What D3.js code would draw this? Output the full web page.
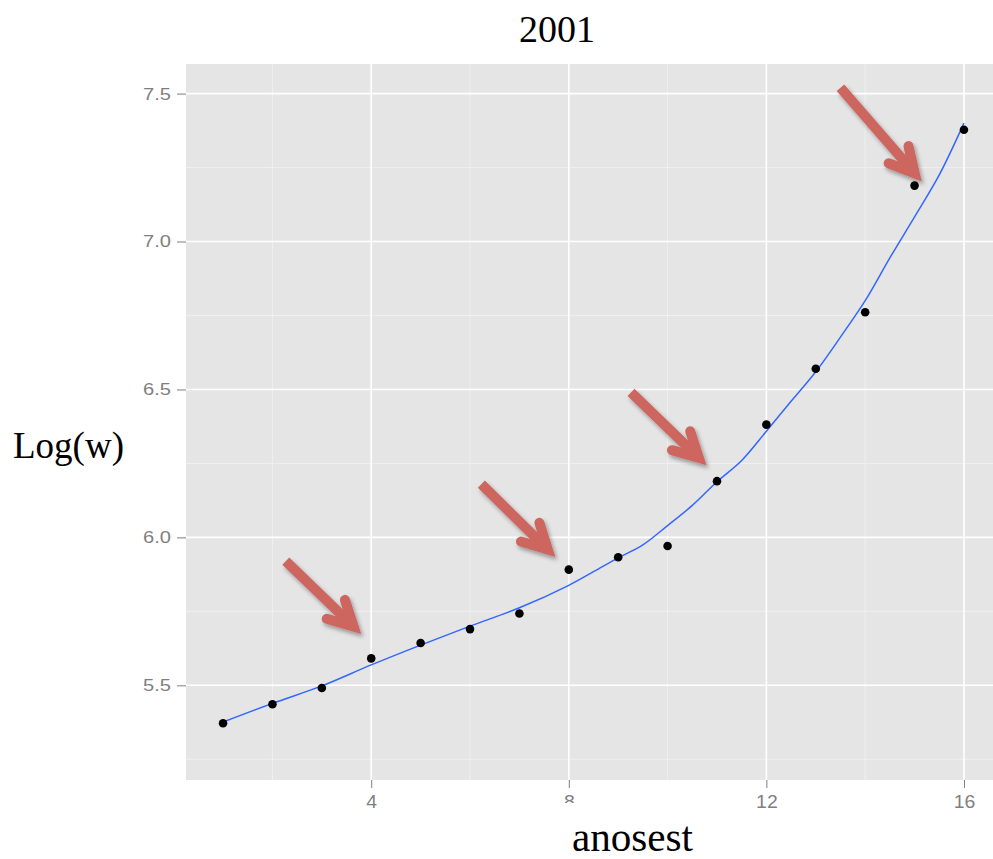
<!doctype html>
<html>
<head>
<script src="https://cdnjs.cloudflare.com/ajax/libs/d3/7.8.5/d3.min.js"></script>
<style>
  body { margin: 0; background: #fff; }
  svg { display: block; }
  .tick-label { font-family: "Liberation Sans", Arial, sans-serif; fill: #7f7f7f; }
  .big { font-family: "Liberation Serif", "DejaVu Serif", serif; fill: #000; }
</style>
</head>
<body>
<svg id="chart" width="993" height="859"></svg>
<script>
// data
const anosest = [1, 2, 3, 4, 5, 6, 7, 8, 9, 10, 11, 12, 13, 14, 15, 16];
const logw = [5.372, 5.436, 5.491, 5.591, 5.643, 5.690, 5.743, 5.891,
              5.933, 5.971, 6.190, 6.381, 6.570, 6.761, 7.189, 7.378];

// loess smooth
const smoothX = [1, 2, 3, 4, 5, 6, 7, 8, 8.5, 9, 9.5, 10, 10.5, 11, 11.5, 12, 12.5, 13, 13.5, 14, 14.5, 15, 15.5, 16];
const smoothY = [5.376, 5.439, 5.498, 5.569, 5.636, 5.700, 5.762, 5.838, 5.884, 5.931, 5.975, 6.040, 6.108, 6.188,
                 6.260, 6.359, 6.460, 6.560, 6.677, 6.800, 6.945, 7.083, 7.225, 7.400];

const xTicks = [4, 8, 12, 16];
const xMinor = [2, 6, 10, 14];
const yTicks = [5.5, 6.0, 6.5, 7.0, 7.5];
const yMinor = [5.25, 5.75, 6.25, 6.75, 7.25];

// annotation arrows (tail -> tip, in data units)
const arrowTails = [[2.27, 5.92], [6.23, 6.18], [9.26, 6.49], [13.50, 7.52]];
const arrowTips = [[3.76, 5.68], [7.69, 5.94], [10.75, 6.25], [15.11, 7.21]];

const svg = d3.select("#chart");
const panel = { left: 186, right: 1001, top: 64, bottom: 780 };

const x = d3.scaleLinear().domain([0.25, 16.75]).range([panel.left, panel.right]);
const y = d3.scaleLinear().domain([5.18, 7.6]).range([panel.bottom, panel.top]);

// panel
svg.append("rect")
  .attr("x", panel.left).attr("y", panel.top)
  .attr("width", panel.right - panel.left).attr("height", panel.bottom - panel.top)
  .attr("fill", "#e5e5e5");

const grid = svg.append("g");
grid.selectAll("line.ym").data(yMinor).enter().append("line")
  .attr("x1", panel.left).attr("x2", panel.right)
  .attr("y1", d => y(d)).attr("y2", d => y(d))
  .attr("stroke", "#f2f2f2").attr("stroke-width", 0.8);
grid.selectAll("line.xm").data(xMinor).enter().append("line")
  .attr("y1", panel.top).attr("y2", panel.bottom)
  .attr("x1", d => x(d)).attr("x2", d => x(d))
  .attr("stroke", "#f2f2f2").attr("stroke-width", 0.8);
grid.selectAll("line.yM").data(yTicks).enter().append("line")
  .attr("x1", panel.left).attr("x2", panel.right)
  .attr("y1", d => y(d)).attr("y2", d => y(d))
  .attr("stroke", "#fff").attr("stroke-width", 1.6);
grid.selectAll("line.xM").data(xTicks).enter().append("line")
  .attr("y1", panel.top).attr("y2", panel.bottom)
  .attr("x1", d => x(d)).attr("x2", d => x(d))
  .attr("stroke", "#fff").attr("stroke-width", 1.6);

// axes
const xAxis = d3.axisBottom(x).tickValues(xTicks).tickSize(8).tickPadding(7).tickFormat(d3.format("d"));
const gx = svg.append("g").attr("transform", `translate(0,${panel.bottom})`).call(xAxis);
gx.select(".domain").remove();
gx.selectAll(".tick line").attr("stroke", "#7f7f7f");
gx.selectAll(".tick text").attr("class", "tick-label").attr("font-size", 18).attr("fill", "#7f7f7f")
  .attr("textLength", d => String(d).length * 10.8).attr("lengthAdjust", "spacingAndGlyphs");

const yAxis = d3.axisLeft(y).tickValues(yTicks).tickSize(9).tickPadding(6).tickFormat(d3.format(".1f"));
const gy = svg.append("g").attr("transform", `translate(${panel.left},0)`).call(yAxis);
gy.select(".domain").remove();
gy.selectAll(".tick line").attr("stroke", "#7f7f7f");
gy.selectAll(".tick text").attr("class", "tick-label").attr("font-size", 17).attr("fill", "#7f7f7f")
  .attr("textLength", 28).attr("lengthAdjust", "spacingAndGlyphs");

// smooth line
const line = d3.line().x(d => x(d[0])).y(d => y(d[1])).curve(d3.curveCatmullRom);
svg.append("path")
  .datum(smoothX.map((v, i) => [v, smoothY[i]]))
  .attr("d", line)
  .attr("fill", "none").attr("stroke", "#3366ff").attr("stroke-width", 1.5);

// points
svg.selectAll("circle.pt").data(anosest).enter().append("circle")
  .attr("class", "pt")
  .attr("cx", d => x(d)).attr("cy", (d, i) => y(logw[i]))
  .attr("r", 4.3).attr("fill", "#000");

// arrows
const defs = svg.append("defs");
const f = defs.append("filter").attr("id", "shadow")
  .attr("x", "-30%").attr("y", "-30%").attr("width", "160%").attr("height", "160%");
f.append("feDropShadow").attr("dx", 2).attr("dy", 3).attr("stdDeviation", 2)
  .attr("flood-color", "#000").attr("flood-opacity", 0.35);

const arrows = svg.append("g").attr("filter", "url(#shadow)");
arrowTails.forEach((t, i) => {
  const p0 = [x(t[0]), y(t[1])];
  const p1 = [x(arrowTips[i][0]), y(arrowTips[i][1])];
  const dx = p1[0] - p0[0], dy = p1[1] - p0[1];
  const len = Math.hypot(dx, dy);
  const ux = dx / len, uy = dy / len;
  const v = [p1[0] - ux * 8, p1[1] - uy * 8];
  const arm = 28, ang = 28 * Math.PI / 180;
  const rot = a => [-(ux * Math.cos(a) - uy * Math.sin(a)), -(ux * Math.sin(a) + uy * Math.cos(a))];
  const r1 = rot(ang), r2 = rot(-ang);
  const a1 = [v[0] + r1[0] * arm, v[1] + r1[1] * arm];
  const a2 = [v[0] + r2[0] * arm, v[1] + r2[1] * arm];
  arrows.append("line")
    .attr("x1", p0[0]).attr("y1", p0[1])
    .attr("x2", v[0] - ux * 4).attr("y2", v[1] - uy * 4)
    .attr("stroke", "#cd665f").attr("stroke-width", 10);
  arrows.append("path")
    .attr("d", `M${a1[0]},${a1[1]}L${v[0]},${v[1]}L${a2[0]},${a2[1]}`)
    .attr("fill", "none").attr("stroke", "#cd665f").attr("stroke-width", 10)
    .attr("stroke-linejoin", "miter").attr("stroke-linecap", "round");
});

// titles
svg.append("text").attr("class", "big")
  .attr("x", 557).attr("y", 42).attr("text-anchor", "middle")
  .attr("font-size", 38).text("2001");

svg.append("text").attr("class", "big")
  .attr("x", 13).attr("y", 458)
  .attr("font-size", 37).text("Log(w)");

// white box of the x label covers the lower part of the "8"
svg.append("rect").attr("x", 548).attr("y", 803).attr("width", 170).attr("height", 56).attr("fill", "#fff");
svg.append("text").attr("class", "big")
  .attr("x", 572).attr("y", 851)
  .attr("font-size", 42).attr("textLength", 121).attr("lengthAdjust", "spacingAndGlyphs")
  .text("anosest");
</script>
</body>
</html>
